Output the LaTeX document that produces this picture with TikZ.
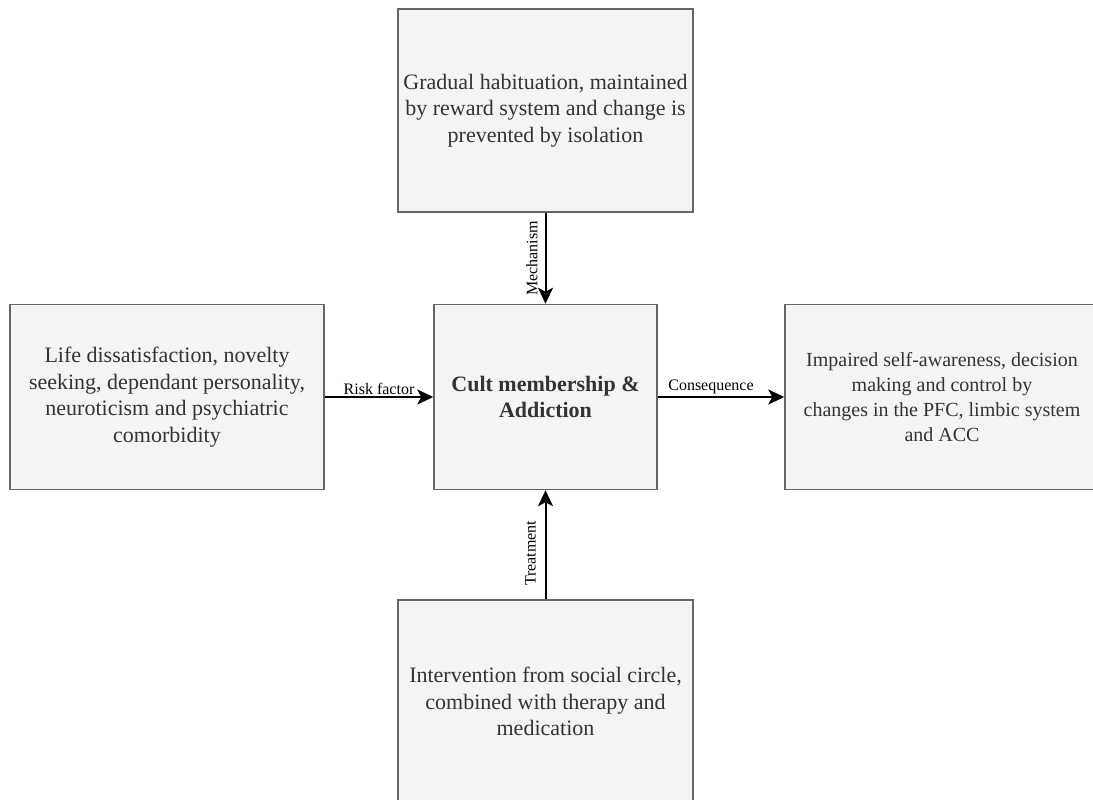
\documentclass[tikz,border=0pt]{standalone}
\usepackage{fontspec}
\setmainfont{Liberation Serif}
\usetikzlibrary{arrows.meta}
\definecolor{boxfill}{HTML}{F4F4F4}
\definecolor{boxline}{HTML}{666666}
\definecolor{boxtext}{HTML}{333333}
\begin{document}
\begin{tikzpicture}[x=1pt,y=-1pt,
  box/.style={draw=boxline, line width=1.5pt, fill=boxfill, text=boxtext,
    align=center, inner sep=0pt, font=\fontsize{22}{26.5}\selectfont},
  arr/.style={line width=2pt, draw=black,
    -{Stealth[length=16pt,width=15pt,inset=4pt]}},
  lbl/.style={font=\fontsize{16}{19}\selectfont, text=black, inner sep=0pt}]
\useasboundingbox (0,0) rectangle (1093,800);
\node[box, minimum width=295pt, minimum height=203pt] (top) at (545.5,110.5)
  {Gradual habituation, maintained\\by reward system and change is\\prevented by isolation};
\node[box, minimum width=314pt, minimum height=185pt] (left) at (167,397)
  {Life dissatisfaction, novelty\\seeking, dependant personality,\\neuroticism and psychiatric\\comorbidity};
\node[box, minimum width=223pt, minimum height=185pt,
  font=\fontsize{22}{26.5}\selectfont\bfseries] (center) at (545.5,397)
  {Cult membership \&\\Addiction};
\node[box, minimum width=314pt, minimum height=185pt,
  font=\fontsize{20}{25}\selectfont] (right) at (942,397)
  {Impaired self-awareness, decision\\making and control by\\changes in the PFC, limbic system\\and ACC};
\node[box, minimum width=295pt, minimum height=203pt] (bottom) at (545.5,701.5)
  {Intervention from social circle,\\combined with therapy and\\medication};
\draw[arr] (top.south) -- (center.north)
  node[lbl, midway, xshift=-13.5pt, rotate=90] {Mechanism};
\draw[arr] (left.east) -- (center.west)
  node[lbl, midway, yshift=8.5pt] {Risk factor};
\draw[arr] (center.east) -- (right.west)
  node[lbl, midway, xshift=-10pt, yshift=10pt] {Consequence};
\draw[arr] (bottom.north) -- (center.south)
  node[lbl, midway, xshift=-15pt, yshift=-8.5pt, rotate=90] {Treatment};
\end{tikzpicture}
\end{document}
